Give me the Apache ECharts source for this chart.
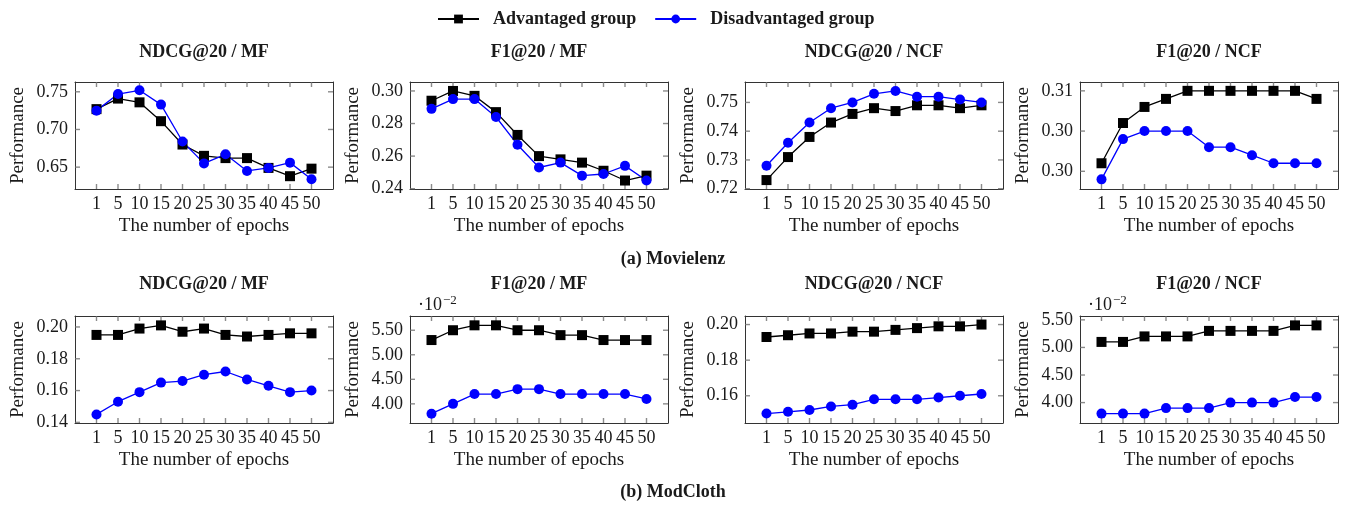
<!DOCTYPE html>
<html><head><meta charset="utf-8">
<script src="https://cdn.jsdelivr.net/npm/echarts@6/dist/echarts.min.js"></script>
<style>html,body{margin:0;padding:0;background:#fff}#c{width:1346px;height:506px}</style>
</head><body><div id="c"></div>
<script>
// ---------- data ----------
const epochs = ['1','5','10','15','20','25','30','35','40','45','50'];
const seriesNames = ['Advantaged group','Disadvantaged group'];
const panelTitles = ['NDCG@20 / MF','F1@20 / MF','NDCG@20 / NCF','F1@20 / NCF',
                     'NDCG@20 / MF','F1@20 / MF','NDCG@20 / NCF','F1@20 / NCF'];
const captions = ['(a) Movielenz','(b) ModCloth'];
const yName = 'Performance';
const xName = 'The number of epochs';
const expLabel = ['·10', '−2'];

// Movielenz
const mlNdcgMfAdv  = [0.727,0.741,0.736,0.711,0.680,0.665,0.662,0.662,0.649,0.638,0.648];
const mlNdcgMfDis  = [0.725,0.747,0.752,0.733,0.684,0.655,0.667,0.645,0.649,0.656,0.634];
const mlF1MfAdv    = [0.294,0.300,0.297,0.287,0.273,0.260,0.258,0.256,0.251,0.245,0.248];
const mlF1MfDis    = [0.289,0.295,0.295,0.284,0.267,0.253,0.256,0.248,0.249,0.254,0.245];
const mlNdcgNcfAdv = [0.723,0.731,0.738,0.743,0.746,0.748,0.747,0.749,0.749,0.748,0.749];
const mlNdcgNcfDis = [0.728,0.736,0.743,0.748,0.750,0.753,0.754,0.752,0.752,0.751,0.750];
const mlF1NcfAdv   = [0.301,0.306,0.308,0.309,0.310,0.310,0.310,0.310,0.310,0.310,0.309];
const mlF1NcfDis   = [0.299,0.304,0.305,0.305,0.305,0.303,0.303,0.302,0.301,0.301,0.301];
// ModCloth
const mcNdcgMfAdv  = [0.195,0.195,0.199,0.201,0.197,0.199,0.195,0.194,0.195,0.196,0.196];
const mcNdcgMfDis  = [0.145,0.153,0.159,0.165,0.166,0.170,0.172,0.167,0.163,0.159,0.160];
const mcF1MfAdv    = [0.053,0.055,0.056,0.056,0.055,0.055,0.054,0.054,0.053,0.053,0.053];
const mcF1MfDis    = [0.038,0.040,0.042,0.042,0.043,0.043,0.042,0.042,0.042,0.042,0.041];
const mcNdcgNcfAdv = [0.193,0.194,0.195,0.195,0.196,0.196,0.197,0.198,0.199,0.199,0.200];
const mcNdcgNcfDis = [0.150,0.151,0.152,0.154,0.155,0.158,0.158,0.158,0.159,0.160,0.161];
const mcF1NcfAdv   = [0.051,0.051,0.052,0.052,0.052,0.053,0.053,0.053,0.053,0.054,0.054];
const mcF1NcfDis   = [0.038,0.038,0.038,0.039,0.039,0.039,0.040,0.040,0.040,0.041,0.041];

// y tick values and labels
const yTicks1 = [0.65,0.70,0.75];        const yLabels1 = ['0.65','0.70','0.75'];
const yTicks2 = [0.24,0.26,0.28,0.30];   const yLabels2 = ['0.24','0.26','0.28','0.30'];
const yTicks3 = [0.72,0.73,0.74,0.75];   const yLabels3 = ['0.72','0.73','0.74','0.75'];
const yTicks4 = [0.30,0.305,0.31];       const yLabels4 = ['0.30','0.30','0.31'];
const yTicks5 = [0.14,0.16,0.18,0.20];   const yLabels5 = ['0.14','0.16','0.18','0.20'];
const yTicks6 = [0.04,0.045,0.05,0.055]; const yLabels6 = ['4.00','4.50','5.00','5.50'];
const yTicks7 = [0.16,0.18,0.20];        const yLabels7 = ['0.16','0.18','0.20'];
const yTicks8 = [0.04,0.045,0.05,0.055]; const yLabels8 = ['4.00','4.50','5.00','5.50'];

// ---------- layout ----------
const FONT = '"Liberation Serif", "DejaVu Serif", serif';
const colLeft = [75, 410, 745, 1080];
const rowTop = [82, 316];
const gw = 258, gh = 107;

const panels = [
  {adv: mlNdcgMfAdv,  dis: mlNdcgMfDis,  ticks: yTicks1, labels: yLabels1, min: 0.621,  max: 0.763},
  {adv: mlF1MfAdv,    dis: mlF1MfDis,    ticks: yTicks2, labels: yLabels2, min: 0.2398, max: 0.3055},
  {adv: mlNdcgNcfAdv, dis: mlNdcgNcfDis, ticks: yTicks3, labels: yLabels3, min: 0.7199, max: 0.7571},
  {adv: mlF1NcfAdv,   dis: mlF1NcfDis,   ticks: yTicks4, labels: yLabels4, min: 0.2978, max: 0.3111},
  {adv: mcNdcgMfAdv,  dis: mcNdcgMfDis,  ticks: yTicks5, labels: yLabels5, min: 0.1396, max: 0.2069},
  {adv: mcF1MfAdv,    dis: mcF1MfDis,    ticks: yTicks6, labels: yLabels6, min: 0.0361, max: 0.0579, exp: true},
  {adv: mcNdcgNcfAdv, dis: mcNdcgNcfDis, ticks: yTicks7, labels: yLabels7, min: 0.1447, max: 0.2048},
  {adv: mcF1NcfAdv,   dis: mcF1NcfDis,   ticks: yTicks8, labels: yLabels8, min: 0.0363, max: 0.0557, exp: true}
];

const frameColor = '#333';
const tickColor = '#6e6e6e';
const textColor = '#1a1a1a';
const TL = 5;  // tick length (px)
const TW = 1.4; // tick width (px)
const xIdx = epochs.map((_, i) => i);

const grid = [], xAxis = [], yAxis = [], series = [], graphic = [];

panels.forEach((p, k) => {
  const r = Math.floor(k / 4), c = k % 4;
  const left = colLeft[c], top = rowTop[r];
  grid.push({left: left, top: top, width: gw, height: gh});
  const line = {show: true, onZero: false, lineStyle: {color: frameColor, width: 1}};
  xAxis.push({
    type: 'value', gridIndex: k, position: 'bottom', min: -1, max: 11,
    axisLine: line, splitLine: {show: false}, axisTick: {show: false},
    axisLabel: {show: true, customValues: xIdx, margin: 6, color: textColor, fontFamily: FONT, fontSize: 18,
      formatter: v => epochs[Math.round(v)] || ''},
    name: xName, nameLocation: 'middle', nameGap: 28,
    nameTextStyle: {color: textColor, fontFamily: FONT, fontSize: 19}
  });
  xAxis.push({
    type: 'value', gridIndex: k, position: 'top', min: -1, max: 11,
    axisLine: line, splitLine: {show: false}, axisTick: {show: false}, axisLabel: {show: false}
  });
  const fmt = v => {
    let best = 0, bd = Infinity;
    p.ticks.forEach((t, i) => { const d = Math.abs(t - v); if (d < bd) { bd = d; best = i; } });
    return p.labels[best];
  };
  yAxis.push({
    type: 'value', gridIndex: k, position: 'left', min: p.min, max: p.max,
    axisLine: line, splitLine: {show: false}, axisTick: {show: false},
    axisLabel: {show: true, customValues: p.ticks, margin: 7, color: textColor, fontFamily: FONT, fontSize: 18, formatter: fmt},
    name: yName, nameLocation: 'middle', nameGap: 47,
    nameTextStyle: {color: textColor, fontFamily: FONT, fontSize: 19}
  });
  yAxis.push({
    type: 'value', gridIndex: k, position: 'right', min: p.min, max: p.max,
    axisLine: line, splitLine: {show: false}, axisTick: {show: false}, axisLabel: {show: false}
  });
  // inside tick marks on all four sides, as thin rect symbols placed through the axes' scales
  const tickSeries = (data, size, offset) => ({
    type: 'scatter', xAxisIndex: 2 * k, yAxisIndex: 2 * k, silent: true, clip: false, z: 1,
    data: data, symbol: 'rect', symbolSize: size, symbolOffset: offset,
    itemStyle: {color: tickColor}
  });
  series.push(tickSeries(xIdx.map(i => [i, p.min]), [TW, TL], [0, -TL / 2]));
  series.push(tickSeries(xIdx.map(i => [i, p.max]), [TW, TL], [0, TL / 2]));
  series.push(tickSeries(p.ticks.map(t => [-1, t]), [TL, TW], [TL / 2, 0]));
  series.push(tickSeries(p.ticks.map(t => [11, t]), [TL, TW], [-TL / 2, 0]));
  series.push({
    name: seriesNames[0], type: 'line', xAxisIndex: 2 * k, yAxisIndex: 2 * k, z: 3,
    data: p.adv.map((v, i) => [i, v]),
    symbol: 'rect', symbolSize: 10, color: '#000',
    lineStyle: {color: '#000', width: 1.3}, itemStyle: {color: '#000'}
  });
  series.push({
    name: seriesNames[1], type: 'line', xAxisIndex: 2 * k, yAxisIndex: 2 * k, z: 3,
    data: p.dis.map((v, i) => [i, v]),
    symbol: 'circle', symbolSize: 10, color: '#0000ff',
    lineStyle: {color: '#0000ff', width: 1.3}, itemStyle: {color: '#0000ff'}
  });
  graphic.push({
    type: 'text', x: left + gw / 2, y: r === 0 ? 52 : 284,
    style: {text: panelTitles[k], textAlign: 'center', textVerticalAlign: 'middle',
      font: 'bold 18px ' + FONT, fill: textColor}
  });
  if (p.exp) {
    graphic.push({
      type: 'text', x: left + 8, y: top - 11,
      style: {text: '{a|' + expLabel[0] + '}{b|' + expLabel[1] + '}', textVerticalAlign: 'middle',
        rich: {
          a: {fontFamily: FONT, fontSize: 18, fill: textColor, color: textColor},
          b: {fontFamily: FONT, fontSize: 13, fill: textColor, color: textColor, verticalAlign: 'top', padding: [0, 0, 8, 1]}
        }}
    });
  }
});

graphic.push({type: 'text', x: 673, y: 259,
  style: {text: captions[0], textAlign: 'center', textVerticalAlign: 'middle', font: 'bold 18px ' + FONT, fill: textColor}});
graphic.push({type: 'text', x: 673, y: 492,
  style: {text: captions[1], textAlign: 'center', textVerticalAlign: 'middle', font: 'bold 18px ' + FONT, fill: textColor}});

const chart = echarts.init(document.getElementById('c'));
chart.setOption({
  animation: false,
  backgroundColor: '#fff',
  legend: {
    data: seriesNames, left: 432, top: 5, itemWidth: 41, itemHeight: 11, itemGap: 18,
    textStyle: {fontFamily: FONT, fontSize: 18, fontWeight: 'bold', color: textColor, padding: [0, 0, 0, 9]}
  },
  grid, xAxis, yAxis, series, graphic
});
</script></body></html>
